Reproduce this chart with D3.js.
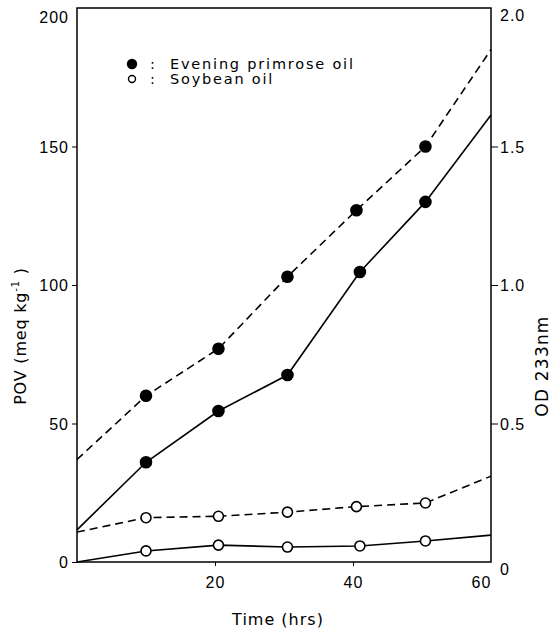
<!DOCTYPE html>
<html>
<head>
<meta charset="utf-8">
<script src="https://cdn.jsdelivr.net/npm/d3@7"></script>
<style>
  body { margin: 0; background: #fff; }
  svg { font-family: "DejaVu Sans", Arial, sans-serif; }
</style>
</head>
<body>
<div id="chart"></div>
<script>
'use strict';
// values
const timeSolid = [0, 10, 20.5, 30.5, 41, 50.5, 60];
const timeDashed = [0, 10, 20.5, 30.5, 40.5, 50.5, 60];
// POV (left axis), solid lines
const povPrimrose = [11.6, 36, 54.5, 67.5, 104.7, 130, 161.4];
const povSoybean = [0, 4, 6.1, 5.4, 5.8, 7.6, 9.7];
// OD 233nm (right axis), dashed lines
const odPrimrose = [0.37, 0.60, 0.77, 1.03, 1.27, 1.50, 1.85];
const odSoybean = [0.108, 0.16, 0.165, 0.18, 0.20, 0.213, 0.31];

const xTicks = [20, 40, 60];
const povTicks = [0, 50, 100, 150, 200];
const odTicks = [0, 0.5, 1.0, 1.5, 2.0];
const legendItems = [
  {label: "Evening primrose oil", filled: true},
  {label: "Soybean oil", filled: false}
];

(function () {
  const width = 553, height = 632;
  const left = 77, right = 491, top = 8, bottom = 562;

  const svg = d3.select("#chart").append("svg")
    .attr("width", width).attr("height", height);

  const x = d3.scaleLinear().domain([0, 60]).range([left, right]);
  const yPov = d3.scaleLinear().domain([0, 200]).range([bottom, top]);
  const yOd = d3.scaleLinear().domain([0, 2]).range([bottom, top]);

  // frame
  svg.append("rect")
    .attr("x", left).attr("y", top)
    .attr("width", right - left).attr("height", bottom - top)
    .attr("fill", "none").attr("stroke", "#000").attr("stroke-width", 1.5);

  const tickFont = 16;

  // left axis
  const axL = svg.append("g").attr("transform", `translate(${left},0)`)
    .call(d3.axisLeft(yPov).tickValues(povTicks).tickSize(5).tickPadding(3).tickFormat(d3.format("d")));
  axL.select(".domain").remove();
  axL.selectAll("text").attr("font-size", tickFont).attr("fill", "#000")
    .attr("letter-spacing", 1)
    .attr("dy", d => d === 200 ? "0.9em" : "0.35em");
  axL.selectAll("line").attr("opacity", d => d === 200 ? 0 : 1);

  // right axis
  const axR = svg.append("g").attr("transform", `translate(${right},0)`)
    .call(d3.axisRight(yOd).tickValues(odTicks).tickSize(7).tickPadding(2)
      .tickFormat(d => d === 0 ? "0" : d3.format(".1f")(d)));
  axR.select(".domain").remove();
  axR.selectAll("text").attr("font-size", tickFont).attr("fill", "#000")
    .attr("letter-spacing", 1)
    .attr("dy", d => d === 2 ? "0.8em" : d === 0 ? "0.75em" : "0.35em");
  axR.selectAll("line").attr("opacity", d => d === 2 || d === 0 ? 0 : 1);

  // bottom axis
  const axB = svg.append("g").attr("transform", `translate(0,${bottom})`)
    .call(d3.axisBottom(x).tickValues(xTicks).tickSize(4).tickPadding(11));
  axB.select(".domain").remove();
  axB.selectAll("text").attr("font-size", tickFont).attr("fill", "#000")
    .attr("letter-spacing", 1)
    .attr("dx", d => d === 60 ? "-10" : "0");
  axB.selectAll("line").attr("opacity", d => d === 60 ? 0 : 1);

  // axis titles
  svg.append("text")
    .attr("transform", "translate(26,336) rotate(-90)")
    .attr("text-anchor", "middle").attr("font-size", 16).attr("letter-spacing", 0.8)
    .html('POV (meq kg<tspan dy="-7" font-size="10">-1</tspan><tspan dy="7"> )</tspan>');
  svg.append("text")
    .attr("transform", "translate(548,366) rotate(-90)")
    .attr("text-anchor", "middle").attr("font-size", 17).attr("letter-spacing", 1.2)
    .text("OD 233nm");
  svg.append("text")
    .attr("x", 278).attr("y", 625)
    .attr("text-anchor", "middle").attr("font-size", 16).attr("letter-spacing", 1)
    .text("Time (hrs)");

  // series
  const series = [
    {t: timeSolid, v: povPrimrose, y: yPov, dashed: false, filled: true},
    {t: timeSolid, v: povSoybean, y: yPov, dashed: false, filled: false},
    {t: timeDashed, v: odPrimrose, y: yOd, dashed: true, filled: true},
    {t: timeDashed, v: odSoybean, y: yOd, dashed: true, filled: false}
  ];

  series.forEach(s => {
    const pts = s.t.map((t, i) => [t, s.v[i]]);
    const line = d3.line().x(d => x(d[0])).y(d => s.y(d[1]));
    svg.append("path")
      .attr("d", line(pts))
      .attr("fill", "none").attr("stroke", "#000").attr("stroke-width", 1.6)
      .attr("stroke-dasharray", s.dashed ? "8,5" : null);
    // markers only at the intermediate measurements
    svg.selectAll(null)
      .data(pts.slice(1, pts.length - 1))
      .enter().append("circle")
      .attr("cx", d => x(d[0])).attr("cy", d => s.y(d[1]))
      .attr("r", s.filled ? 5.5 : 5)
      .attr("fill", s.filled ? "#000" : "#fff")
      .attr("stroke", "#000").attr("stroke-width", 1.6);
  });

  // legend
  const lg = svg.append("g");
  legendItems.forEach((item, i) => {
    const cy = 64 + i * 15;
    lg.append("circle").attr("cx", 132).attr("cy", cy)
      .attr("r", item.filled ? 4.5 : 3.5)
      .attr("fill", item.filled ? "#000" : "#fff")
      .attr("stroke", "#000").attr("stroke-width", 1.4);
    lg.append("text").attr("x", 150).attr("y", cy + 5)
      .attr("font-size", 14.5).text(":");
    lg.append("text").attr("x", 170).attr("y", cy + 5)
      .attr("font-size", 14.5).attr("letter-spacing", 1.8).text(item.label);
  });
})();
</script>
</body>
</html>
